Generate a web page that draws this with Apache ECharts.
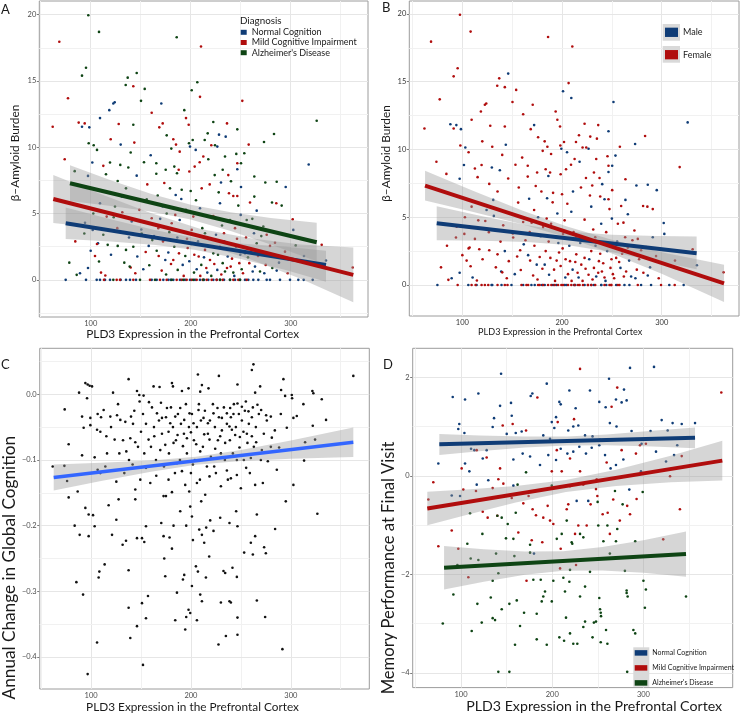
<!DOCTYPE html>
<html><head><meta charset="utf-8">
<script src="https://cdn.jsdelivr.net/npm/echarts@6/dist/echarts.min.js"></script>
<style>html,body{margin:0;padding:0;background:#fff}#c{width:740px;height:714px}</style>
</head><body><div id="c"></div>
<script>
// ---------- DATA ----------
// Panels A & B share points: [PLD3 expression, amyloid burden, diagnosis (N/M/A), sex (M/F)]
const abPoints = [
[97.6,19.95,'A','F'],[108.3,18.7,'A','F'],[68.6,17.96,'M','F'],[186,18.3,'A','F'],[210.3,17.6,'M','F'],
[95.3,16.0,'A','F'],[91.3,15.4,'A','F'],[146,15.6,'A','M'],[137,15.25,'A','F'],[135,14.7,'A','F'],
[142.6,14.6,'M','F'],[154,14.4,'A','F'],[206.6,14.9,'A','F'],[201,14.3,'A','M'],[77.3,13.7,'M','F'],
[209.3,13.8,'M','M'],[251.6,13.5,'M','M'],[150.3,13.5,'A','F'],[124,13.4,'N','F'],[122.6,13.3,'N','F'],
[170.6,13.3,'N','F'],[118.6,12.8,'N','F'],[193.6,12.8,'A','F'],[161,12.6,'M','F'],[109.3,12.2,'N','F'],
[62,11.55,'M','F'],[88,11.86,'M','M'],[94,11.8,'M','M'],[91.3,11.55,'N','F'],[98.6,11.5,'N','M'],
[128,11.75,'M','F'],[142.6,11.7,'A','F'],[168.6,11.5,'M','F'],[172,11.8,'M','M'],[195.3,12.2,'M','F'],
[198,11.7,'M','F'],[222.6,11.9,'A','F'],[236.3,11.8,'M','F'],[228.3,10.95,'N','F'],[235,10.8,'N','F'],
[246.6,11.35,'A','M'],[326,12.0,'A','M'],[217,11.05,'A','F'],[98,10.3,'A','F'],[103,10.15,'A','M'],
[106.3,9.8,'A','F'],[130,10.2,'N','F'],[143.6,10.35,'M','M'],[182.6,10.6,'M','F'],[180.6,9.9,'A','F'],
[185.3,10.2,'M','F'],[189,9.67,'M','F'],[198.3,10.3,'A','F'],[199.3,10.05,'N','M'],[202,10.55,'A','F'],
[214,10.55,'A','F'],[220.6,10.15,'M','F'],[224.3,10.15,'A','F'],[226.6,10.05,'N','M'],[234.3,9.3,'A','F'],
[245.6,9.5,'A','F'],[253.6,9.55,'A','M'],[273.3,10.4,'A','M'],[283.3,11.0,'A','F'],[318,8.7,'N','F'],
[74,9.1,'M','F'],[84,8.2,'A','F'],[101.6,8.85,'N','M'],[112.6,8.6,'M','F'],[119.3,8.85,'A','F'],
[129.6,8.67,'A','M'],[137.6,8.47,'A','M'],[153.3,8.87,'A','F'],[165.6,8.8,'A','F'],[165.6,8.0,'A','F'],
[115.3,7.96,'A','F'],[146,7.86,'N','F'],[97.3,7.84,'N','M'],[175,8.3,'A','F'],[183.6,8.54,'A','F'],
[186.3,8.04,'A','M'],[188,8.3,'M','F'],[198.6,8.17,'M','F'],[204,8.54,'M','F'],[209,8.87,'M','F'],
[212.6,9.3,'M','F'],[217.6,9.1,'A','M'],[224,7.9,'A','F'],[237.6,7.9,'M','F'],[246.6,8.34,'N','M'],
[246.6,8.8,'M','F'],[250.3,8.8,'A','M'],[230.3,7.34,'N','F'],[240.3,7.44,'A','M'],[250.3,7.0,'N','F'],
[263.6,7.8,'A','F'],[274.6,7.34,'A','M'],[286,7.4,'A','M'],[295,7.0,'N','M'],[127,7.46,'A','F'],
[135.3,6.9,'A','F'],[173.6,7.3,'M','F'],[179.3,6.9,'A','F'],[167,6.36,'A','M'],[191,6.8,'A','F'],
[200,6.7,'A','F'],[211,6.9,'M','M'],[228,6.6,'A','F'],[238.3,6.53,'M','F'],[242.6,6.33,'M','M'],
[246.6,6.33,'M','F'],[263.6,6.28,'A','M'],[259.3,5.83,'M','F'],[281.3,5.83,'A','F'],[285.6,5.78,'M','F'],
[291,5.6,'A','F'],
[78.6,1.3,'A','F'],[86,0.38,'A','F'],[89.3,0.5,'N','M'],[93.6,3.5,'A','F'],[100,2.2,'N','F'],
[102,3.77,'N','F'],[106.3,2.7,'M','F'],[107.3,2.76,'N','F'],[108.3,1.38,'A','F'],[110.3,0.55,'M','M'],
[114.6,0.33,'M','F'],[117,2.64,'A','F'],[127,2.56,'A','F'],[123,4.72,'A','F'],[135.3,2.26,'A','F'],
[139,1.0,'A','M'],[140,0.93,'M','F'],[142.6,2.5,'A','M'],[146.6,1.76,'N','F'],[151,3.5,'A','F'],
[152.6,0.8,'N','M'],[158,2.56,'N','F'],[163.3,3.3,'N','F'],[166,2.2,'A','M'],[167.6,3.9,'M','F'],
[171,0.7,'M','F'],[174.6,1.5,'N','M'],[177.6,2.06,'N','F'],[182.6,1.5,'M','M'],[183.6,2.5,'A','F'],
[187,0.75,'A','M'],[192,1.13,'N','F'],[194.6,1.8,'A','F'],[197,2.4,'M','F'],[201,3.77,'M','F'],
[203.3,0.55,'A','M'],[206,0.8,'N','F'],[208,1.76,'M','F'],[210.6,1.13,'A','M'],[214.3,2.26,'M','F'],
[216.6,0.55,'N','M'],[219.3,1.5,'M','F'],[222.6,2.0,'A','F'],[226.6,0.75,'N','F'],[229.3,2.5,'M','F'],
[232,1.26,'A','F'],[234.3,0.63,'A','M'],[237,1.76,'N','F'],[240,1.0,'M','F'],[242.6,0.55,'A','F'],
[245.3,2.5,'N','M'],[248.6,1.26,'M','F'],[251,0.8,'A','F'],[254.3,2.0,'N','F'],[258.6,1.26,'M','M'],
[262,0.63,'N','F'],[266,2.76,'A','F'],[269.3,0.63,'A','M'],[275,1.13,'M','F'],[279.3,2.56,'M','F'],
[286,0.7,'N','M'],[294.3,2.13,'M','F'],[302.6,3.77,'N','M'],[302,4.57,'M','M'],[313.3,1.8,'N','F'],
[331,2.64,'M','F'],[335.3,1.46,'N','M'],[362,0.93,'M','F'],
[94.3,4.3,'N','F'],[102.6,5.0,'A','F'],[109.3,5.78,'N','F'],[116,4.77,'M','F'],[124.3,5.53,'A','M'],
[131,6.28,'N','M'],[141,4.4,'N','F'],[148.6,5.28,'M','F'],[156,6.08,'A','F'],[161,4.65,'M','F'],
[172,5.53,'N','F'],[176,5.0,'A','M'],[181,4.27,'M','F'],[189,4.52,'N','F'],[195.3,5.28,'A','M'],
[202.6,4.77,'M','F'],[209.3,5.4,'N','M'],[214.3,3.52,'A','F'],[222.6,4.82,'M','F'],[229.3,5.78,'N','M'],
[233.3,3.52,'M','F'],[239.3,4.52,'A','M'],[244.3,3.9,'M','F'],[250,4.9,'N','M'],[256,4.52,'A','F'],
[263.3,3.52,'N','F'],[266,5.22,'N','M'],[272.6,4.02,'A','F'],[276,3.4,'M','F'],[291,3.52,'A','M'],
[150.6,3.8,'N','F'],[155,2.1,'M','F'],[158.6,1.1,'A','F'],[161.6,3.0,'A','M'],[168,1.8,'M','F'],
[169.5,4.6,'N','F'],[172.3,2.9,'M','F'],[175.4,0.4,'A','F'],[178.6,3.6,'A','M'],[180.3,1.2,'M','F'],
[184.6,4.9,'M','F'],[186.6,3.2,'N','F'],[188.3,2.0,'M','F'],[190.6,6.1,'N','F'],[193,0.3,'M','F'],
[196.3,3.1,'M','M'],[198.6,1.4,'N','F'],[200.6,2.7,'A','F'],[203.6,1.9,'M','F'],[205.3,6.0,'A','F'],
[207.3,2.9,'N','M'],[209.6,0.3,'M','F'],[211.6,3.9,'A','F'],[213.3,1.7,'N','F'],[215.6,0.9,'M','F'],
[218.3,3.1,'M','M'],[220.6,0.3,'A','F'],[223.6,1.2,'M','F'],[225.3,3.4,'N','F'],[227.3,1.9,'A','M'],
[230.6,0.4,'M','F'],[231.3,4.1,'A','F'],[233.6,2.9,'N','M'],[236.3,0.9,'M','F'],[238.3,2.3,'A','F'],
[241.3,1.6,'M','F'],[243.6,0.3,'N','M'],[246.3,3.1,'M','F'],[247.6,5.6,'A','F'],[249.6,1.9,'N','F'],
[252.3,0.5,'M','F'],[255.3,3.2,'M','M'],[257.3,1.7,'A','F'],[260.3,2.3,'M','F'],[261.6,4.6,'A','F'],
[264.3,1.0,'N','F'],[267.3,1.8,'M','M'],[270.6,3.3,'A','F'],[273.6,0.5,'N','M'],[277.3,1.9,'M','F'],
[281.6,0.9,'A','F'],[284.3,2.8,'M','F'],[288.3,1.3,'N','M'],[297,0.5,'M','F'],[305,2.6,'A','F'],
[120.3,1.9,'N','F'],[126.6,3.9,'M','F'],[133.6,1.3,'A','F'],[131.6,5.1,'M','M'],[138.3,3.2,'N','F'],
[144.6,0.5,'M','F'],[112.6,3.4,'A','F'],[104.3,1.8,'M','F'],[97.3,0.9,'N','M'],[84.6,2.9,'M','F'],
[156.6,7.2,'M','F'],[185,6.4,'N','M'],[219,7.2,'M','F'],[232,8.3,'A','F'],[205,9.8,'N','M'],
[258,10.2,'M','F'],[176,10.9,'A','F'],[160,9.4,'N','F'],[140,9.6,'A','F'],[120,10.6,'M','F'],
[75,0,'N','M'],[95.3,0,'N','F'],[106,0,'N','M'],[109.3,0,'N','F'],[114.3,0,'N','M'],[119.3,0,'N','F'],
[130,0,'N','M'],[135.3,0,'N','F'],[139.3,0,'N','M'],[145.3,0,'N','F'],[161,0,'N','M'],[166,0,'N','F'],
[172.6,0,'N','M'],[177.6,0,'N','F'],[180,0,'N','M'],[182.6,0,'N','M'],[189.3,0,'N','F'],[194.3,0,'N','M'],
[199.3,0,'N','F'],[204.3,0,'N','M'],[209.3,0,'N','F'],[213.3,0,'N','M'],[217.6,0,'N','F'],[222.6,0,'N','M'],
[226,0,'N','F'],[229.3,0,'N','M'],[233.3,0,'N','F'],[239.3,0,'N','M'],[244.3,0,'N','M'],[249.3,0,'N','F'],
[254.3,0,'N','M'],[257.6,0,'N','F'],[262.6,0,'N','M'],[267.6,0,'N','M'],[276,0,'N','F'],[279.3,0,'N','M'],
[289.3,0,'N','M'],[299.3,0,'N','F'],[307.6,0,'N','M'],[313,0,'N','F'],[322,0,'N','M'],
[113.3,0,'M','F'],[126,0,'M','F'],[129.3,0,'M','M'],[142.6,0,'M','F'],[159.3,0,'M','F'],[169.3,0,'M','M'],
[176,0,'M','F'],[186,0,'M','F'],[191,0,'M','M'],[196,0,'M','F'],[201,0,'M','F'],[206,0,'M','F'],
[212,0,'M','M'],[216,0,'M','F'],[221,0,'M','F'],[226,0,'M','F'],[232,0,'M','M'],[242.6,0,'M','F'],
[247.6,0,'M','F'],[256,0,'M','F'],
[122.6,0,'A','F'],[149.3,0,'A','M'],[164.3,0,'A','F'],[181,0,'A','F'],[192.6,0,'A','F'],[202.6,0,'A','M'],
[212.6,0,'A','F'],[229.3,0,'A','F'],[239.3,0,'A','M'],[249.3,0,'A','F']
];

// Panel A fits [x, y] and confidence bands [x, lower, upper]
const fitA_NC  = [[75,4.27],[335.3,1.13]];
const fitA_MCI = [[62.6,6.1],[362.6,0.38]];
const fitA_AD  = [[79.3,7.29],[326,2.84]];
const bandA_NC  = [[75,3.09,5.45],[120,2.89,4.57],[165,2.63,3.75],[205,2.25,3.15],[250,1.57,2.75],[295,0.74,2.50],[335.3,-0.15,2.2]];
const bandA_MCI = [[62.6,4.29,7.91],[110,3.90,6.48],[160,3.44,5.04],[210,2.74,3.84],[260,1.53,3.13],[310,0.09,2.67],[362.6,-1.69,2.45]];
const bandA_AD  = [[79.3,5.94,8.64],[120,5.58,7.52],[160,5.16,6.50],[200,4.56,5.66],[240,3.69,5.09],[280,2.67,4.67],[326,1.40,4.30]];

// Panel B fits and bands
const fitB_Male   = [[74.3,4.56],[335,2.34]];
const fitB_Female = [[62.6,7.33],[362.5,0.12]];
const bandB_Male   = [[74.3,3.31,5.81],[120,3.27,5.07],[165,3.18,4.40],[205,2.95,3.95],[250,2.42,3.70],[295,1.75,3.61],[335,1.16,3.57]];
const bandB_Female = [[62.6,6.23,8.43],[110,5.40,6.98],[160,4.48,5.50],[205,3.51,4.31],[250,2.32,3.34],[300,0.83,2.41],[362.5,-1.26,1.50]];

// Panel C points [PLD3 expression, annual change in global cognition]
const cPoints = [
[262.6,0.0456],[261,0.037],[362.6,0.028],[292.6,0.023],[207,0.03],[228,0.028],[137.6,0.023],[181,0.017],[182,0.012],
[162.6,0.012],[168.6,0.011],[197.6,0.009],[94.3,0.017],[96.6,0.015],[98.6,0.013],[101,0.012],[88,0.0025],[122,0.0025],
[211,0.014],[217.6,0.009],[191,0.005],[209.3,0.004],[246.6,0.015],[269.3,0.012],[264.3,0.0025],[290.3,0.0065],
[321.6,0.005],[322.6,0.0015],[301,-0.001],[294.3,-0.0025],[301.3,-0.006],[331,-0.0076],[146,0.005],[148.3,-0.001],
[152.6,-0.002],[96,-0.006],
[73.6,-0.023],[91,-0.034],[99.3,-0.036],[106.6,-0.03],[112.6,-0.024],[119.3,-0.034],[126,-0.032],[129.3,-0.039],
[134.3,-0.042],[140,-0.034],[143.3,-0.025],[148.6,-0.011],[161,-0.02],[166,-0.029],[171,-0.036],[176,-0.021],
[179.3,-0.044],[184.3,-0.034],[189.3,-0.021],[193.3,-0.039],[198.6,-0.029],[202.6,-0.044],[207.6,-0.024],
[212.6,-0.036],[217,-0.044],[222.6,-0.029],[226.6,-0.021],[231,-0.036],[236,-0.029],[239.3,-0.021],[242.6,-0.03],
[246.6,-0.014],[251,-0.019],[255,-0.011],[257.6,-0.026],[262,-0.02],[266.6,-0.016],[270.3,-0.024],[275.3,-0.032],
[280,-0.034],[306,-0.033],[302.6,-0.036],[312.6,-0.015],[335.3,-0.039],[322,-0.048],
[77.6,-0.076],[106,-0.054],[109.3,-0.057],[115.3,-0.064],[123.6,-0.069],[128.3,-0.09],[135.3,-0.087],[139.3,-0.067],
[144.3,-0.073],[150,-0.057],[153.3,-0.09],[157.6,-0.069],[163.3,-0.064],[169.3,-0.085],[174.3,-0.077],[177.6,-0.057],
[182.6,-0.074],[186.6,-0.062],[192,-0.079],[196,-0.067],[200,-0.058],[205.3,-0.076],[209.3,-0.087],[213.3,-0.061],
[218.6,-0.069],[224.3,-0.083],[229.3,-0.064],[234.3,-0.074],[238.6,-0.049],[241,-0.054],[244.3,-0.062],[248.6,-0.081],
[252.6,-0.057],[256.6,-0.074],[261,-0.064],[265.3,-0.073],[271,-0.085],[281,-0.066],[288.3,-0.081],[296,-0.051],
[314.3,-0.073],[324.3,-0.069],[92.6,-0.051],[99.3,-0.047],
[61.6,-0.11],[73.3,-0.109],[76,-0.132],[91,-0.093],[103.6,-0.096],[106.6,-0.115],[109.3,-0.12],[114.3,-0.11],
[125.3,-0.133],[133.3,-0.12],[141.6,-0.107],[144.3,-0.145],[149.3,-0.13],[155,-0.112],[159.3,-0.135],[165.3,-0.124],
[172.6,-0.155],[175,-0.155],[177.6,-0.13],[181,-0.149],[186,-0.105],[191,-0.117],[194.3,-0.138],[198.3,-0.148],
[202,-0.107],[206,-0.135],[210.3,-0.163],[214.3,-0.153],[218.6,-0.125],[223.3,-0.11],[230,-0.14],[236,-0.116],
[240,-0.128],[246,-0.123],[250,-0.143],[255.3,-0.112],[260,-0.097],[264.3,-0.138],[272,-0.135],[277,-0.102],
[286,-0.115],[295,-0.163],[302.6,-0.138],[313.3,-0.101],[326.6,-0.182],
[77.6,-0.157],[86.6,-0.148],[83.6,-0.2],[88.6,-0.214],[94.3,-0.173],[97.6,-0.183],[97.6,-0.216],[102,-0.184],
[103.6,-0.201],[117.6,-0.169],[121,-0.214],[125.3,-0.191],[127.6,-0.16],[131.6,-0.229],[135,-0.223],[144.3,-0.16],
[146,-0.219],[151,-0.219],[153.3,-0.225],[155,-0.201],[170.3,-0.196],[172.6,-0.216],[178.6,-0.218],[181,-0.235],
[182.6,-0.2],[189.3,-0.178],[195.3,-0.2],[199.3,-0.171],[201,-0.186],[202,-0.222],[208.3,-0.206],[211,-0.214],
[215.3,-0.203],[219.3,-0.192],[222.6,-0.208],[213.3,-0.226],[218.3,-0.247],[229.3,-0.188],[238.6,-0.196],
[245.3,-0.178],[246.6,-0.201],[253.3,-0.241],[260,-0.226],[262,-0.244],[264.3,-0.216],[266,-0.183],[273.3,-0.233],
[275,-0.242],[284.3,-0.205],
[85.3,-0.286],[92,-0.305],[113.6,-0.259],[108.3,-0.27],[107.6,-0.279],[137.6,-0.268],[137.6,-0.325],[139.3,-0.371],
[146,-0.353],[151,-0.318],[155,-0.341],[157,-0.307],[106,-0.378],[96.6,-0.426],[152,-0.412],[173.3,-0.25],
[174.3,-0.277],[186,-0.302],[184.3,-0.344],[192,-0.282],[193.3,-0.275],[194.3,-0.358],[195.3,-0.339],[197.6,-0.328],
[199.3,-0.333],[201,-0.292],[205,-0.262],[207,-0.27],[206,-0.344],[209.3,-0.305],[211,-0.315],[215,-0.279],
[227.6,-0.381],[230,-0.317],[232.6,-0.269],[234.3,-0.272],[235,-0.368],[238.6,-0.315],[240,-0.317],[241.6,-0.264],
[246,-0.278],[246.6,-0.34],[246.6,-0.366],[266,-0.314],[274.3,-0.339],[291.6,-0.388],
[152,-0.03],[155,-0.045],[158,-0.012],[160,-0.08],[163,-0.05],[165,-0.1],[168,-0.04],[170,-0.013],[171,-0.06],
[173,-0.11],[175,-0.035],[178,-0.09],[180,-0.02],[182,-0.05],[184,-0.12],[185,-0.07],[187,-0.03],[189,-0.1],
[190,-0.045],[193,-0.06],[195,-0.015],[196,-0.09],[198,-0.05],[200,-0.12],[201,-0.03],[203,-0.07],[204,-0.1],
[206,-0.05],[208,-0.015],[209,-0.13],[210,-0.04],[212,-0.08],[214,-0.025],[216,-0.11],[217,-0.06],[219,-0.04],
[220,-0.095],[222,-0.015],[224,-0.05],[225,-0.12],[227,-0.07],[228,-0.035],[230,-0.09],[231,-0.055],[233,-0.02],
[234,-0.1],[236,-0.045],[237,-0.13],[239,-0.07],[240,-0.035],[242,-0.09],[243,-0.015],[245,-0.05],[246,-0.1],
[248,-0.03],[249,-0.065],[251,-0.04],[253,-0.1],[254,-0.025],[256,-0.06],[258,-0.045],[259,-0.12],[261,-0.035],
[263,-0.08],[265,-0.05],[268,-0.03],[270,-0.1],[273,-0.06],[276,-0.04],[280,-0.08],[284,-0.055],[290,-0.03],
[120,-0.05],[127,-0.015],[132,-0.07],[138,-0.1],[142,-0.045],[147,-0.08],[116,-0.09],[110,-0.035]
];
const fitC  = [[62.6,-0.1268],[362.6,-0.073]];
const bandC = [[62.6,-0.1466,-0.1070],[110,-0.1322,-0.1044],[160,-0.1178,-0.1009],[205,-0.1073,-0.0953],[250,-0.1017,-0.0848],[300,-0.0981,-0.0703],[362.6,-0.0955,-0.0505]];

// Panel D points [PLD3 expression, memory performance]
const dNC = [
[90.9,1.6],[104.4,1.55],[119,1.67],[143.9,2.07],[142.8,1.42],[154.8,1.48],[155.6,1.22],[136.2,1.17],[134.7,0.99],
[98.1,1.05],[97,0.95],[103.7,0.87],[150.1,0.85],[160,0.87],[166.5,0.9],[178.2,1.67],[176.4,1.62],[194,1.87],
[199.5,1.09],[204.2,1.19],[207.8,1.5],[209.3,1.45],[218.8,1.73],[225.7,1.37],[241.4,1.73],[251.6,1.5],[258.6,1.39],
[262.3,1.97],[269.9,1.55],[276.1,1.49],[281.6,1.53],[285.3,2.19],[311.6,2.21],[278.7,1.75],[320,1.13],[332,1.07],
[342,1.05],[356.6,1.07],[190.2,0.82],[197.6,0.75],[202.3,0.97],[217.6,0.92],[223.1,1.0],[228.6,1.02],[236,0.82],
[244.2,0.8],[252.4,0.73],[263.2,1.07],[270.5,1.0],[287,0.91],[298,0.65],[307.8,0.91],[326.6,0.92],[337.1,0.62],
[333.6,0.42],[313.8,0.49],[324.8,0.29],[111,0.55],[114.6,0.52],[104.4,0.25],[75.1,0.25],[109.1,0.09],[123.8,0.35],
[128.1,0.52],[157.4,0.33],[167.6,0.45],[175.7,0.39],[186.6,0.22],[195.7,0.42],[204.2,0.32],[209.3,0.55],[216.6,0.45],
[223.1,0.49],[229.7,0.59],[237,0.45],[243.3,0.57],[251.6,0.62],[257.9,0.42],[264,0.15],[269.9,0.22],[278,0.33],
[284.5,-0.28],[297.3,0.09],[89.8,-0.4],[98.9,-0.41],[117.2,-0.18],[129.9,-0.09],[157.4,-0.2],[180,-1.58],
[226.8,-0.51],[239.5,-0.51]
];
const dMCI = [
[230.5,2.17],[271.3,1.79],[385.4,1.69],[183.7,1.59],[145.7,1.02],[206,1.09],[223.9,1.15],[265.1,1.4],[171.3,0.92],
[128.1,0.37],[117.2,0.52],[142.8,0.15],[140.9,-0.07],[100.7,0.15],[69.6,-0.13],[64.2,-0.48],[75.1,-1.43],[89.8,-1.11],
[97,-1.48],[108,-2.06],[102.5,-0.28],[116.4,-0.31],[134.7,-0.25],[146.4,-0.16],[155.6,-0.45],[123.8,-0.73],
[129.2,-0.85],[139.8,-0.81],[162.8,-1.15],[168.3,-0.56],[174.1,-0.41],[178.5,-0.68],[182.2,-0.8],[189.1,-1.35],
[177.5,-1.31],[190.2,-0.85],[195,-0.61],[199.5,0.09],[197.6,-0.91],[201.2,-0.98],[209.3,-1.48],[215.9,-0.68],
[217.6,-0.58],[225,-1.18],[228.6,-1.01],[219.5,-0.21],[234.1,-0.18],[237.8,-1.01],[242.1,-0.58],[248,-0.27],
[249.5,-0.41],[255.3,-0.78],[260.8,-0.75],[263.2,-1.18],[266.9,-0.48],[274.1,-0.91],[282.2,-0.61],[296.2,0.62],
[302.7,0.65],[292.5,-0.47],[285.3,-0.78],[321.7,-1.29],[340,-0.68],[329.2,-0.01],[342,0.4],[291.8,0.45],[276.1,0.52],
[259.7,0.27],[248.7,-0.07],[230.5,0.09],[219.5,0.35],[205,0.52],[210.4,0.09],[226.1,-1.81],[171.8,-2.13],
[208.6,-1.88],[156.6,1.05]
];
const dAD = [
[80,-3.0],[91.6,-2.41],[96,-1.81],[106.9,-1.38],[110.6,-1.68],[111.7,-3.15],[117.9,-2.6],[119,-1.71],[123.4,-1.18],
[122.7,-2.98],[132.6,-2.47],[134.7,-2.13],[134.7,-2.89],[137.3,-2.93],[138.4,-1.58],[140.9,-1.98],[140.9,-3.98],
[139.8,-0.81],[144.6,-0.85],[144.6,-2.71],[149.3,-1.27],[151.2,-0.98],[153,-2.6],[153,-3.98],[157.4,-1.28],
[158.5,-1.63],[160,-0.75],[161.1,-2.53],[159.2,-3.43],[164.7,-3.05],[169.1,-2.78],[171.3,0.07],[175.7,-1.4],
[175.7,-1.56],[179.3,-2.11],[183,-2.8],[183,-3.32],[187.4,-2.11],[188.5,-2.55],[190.2,-2.45],[192.1,-2.35],
[194,-3.43],[199.5,-2.55],[201.2,-2.13],[199.5,-0.2],[205,-1.28],[207.8,-3.28],[210.4,-1.18],[212.2,-2.07],
[214,-2.35],[213,-3.35],[215.1,-2.88],[215.9,-0.91],[218.8,-2.15],[219.5,-1.91],[221.3,-1.35],[222,-1.38],
[219.5,-3.2],[223.1,-3.41],[227.5,-3.41],[230.5,-2.45],[230.5,-1.18],[234.1,-3.07],[236,-2.96],[236,-2.25],
[241.4,-1.95],[244.2,-3.28],[245.7,-2.98],[248,-2.96],[249.8,-0.53],[250.5,-1.01],[251.6,-2.48],[252.4,-2.71],
[253.2,-2.78],[253.5,-2.85],[253.2,-3.38],[256.1,-1.33],[259,-3.13],[260.5,-3.41],[263.2,-1.58],[268.8,-0.31],
[269.9,-1.33],[271.3,-1.08],[277.2,-0.58],[279.7,-1.93],[281.6,-2.33],[281.6,-2.38],[282.7,-2.45],[282.2,-3.98],
[291,-1.33],[289,-3.13],[291,-3.2],[300,-2.13],[302.7,-2.31],[301.6,-2.68],[346.7,-2.45],[299.2,-0.33],[162,-0.18],
[109.9,-0.76],[234.1,-1.25],[260.5,-1.01]
];
const fitD_NC  = [[76.2,0.64],[356.6,0.774]];
const fitD_MCI = [[63,-0.666],[386.5,0.308]];
const fitD_AD  = [[81.4,-1.866],[346.7,-1.59]];
const bandD_NC  = [[76.2,0.42,0.85],[120,0.50,0.82],[170,0.574,0.796],[216,0.617,0.797],[260,0.618,0.838],[310,0.592,0.912],[356.6,0.56,0.98]];
const bandD_MCI = [[63,-1.006,-0.326],[110,-0.775,-0.275],[160,-0.540,-0.208],[215,-0.328,-0.088],[270,-0.209,0.123],[330,-0.131,0.407],[386.5,-0.096,0.712]];
const bandD_AD  = [[81.4,-2.31,-1.426],[125,-2.151,-1.491],[170,-2.011,-1.537],[212,-1.93,-1.53],[255,-1.924,-1.448],[300,-1.971,-1.307],[346.7,-2.05,-1.13]];

// Tick labels / grid values
const xTicks = [100,200,300];
const xMinor = [50,150,250,350];
const yTicksAB = [0,5,10,15,20];
const yMinorAB = [-2.5,2.5,7.5,12.5,17.5];
const yTicksC = [-0.4,-0.3,-0.2,-0.1,0.0];
const yMinorC = [-0.35,-0.25,-0.15,-0.05,0.05];
const yTicksD = [-4,-2,0,2];
const yMinorD = [-3,-1,1];

const diagNames = {N:'Normal Cognition', M:'Mild Cognitive Impairment', A:"Alzheimer's Disease"};
const sexNames = {M:'Male', F:'Female'};

// ---------- STYLE ----------
const FF = 'Lato';
const C_BLUE = '#0f3c76', C_RED = '#b00d0d', C_GREEN = '#0e4414';
const BAND_FILL = 'rgba(153,153,153,0.4)';

const chart = echarts.init(document.getElementById('c'), null, {renderer:'canvas'});

function gridLineSeries(gi, xs, xm, ys, ym) {
  const major = {color:'#e6e6e6', width:1, type:'solid'};
  const minor = {color:'#f1f1f1', width:1, type:'solid'};
  const d = [];
  xs.forEach(v => d.push({xAxis:v, lineStyle:major}));
  xm.forEach(v => d.push({xAxis:v, lineStyle:minor}));
  ys.forEach(v => d.push({yAxis:v, lineStyle:major}));
  ym.forEach(v => d.push({yAxis:v, lineStyle:minor}));
  return {type:'line', xAxisIndex:gi, yAxisIndex:gi, data:[], silent:true, z:1,
    markLine:{silent:true, symbol:['none','none'], label:{show:false}, z:1, animation:false, data:d}};
}
function scatter(gi, name, data, color) {
  return {type:'scatter', name, xAxisIndex:gi, yAxisIndex:gi, data, symbolSize:2.6, z:2,
    itemStyle:{color, opacity:1}, silent:true};
}
function bandRender(params, api) {
  if (params.dataIndexInside !== 0) return null;
  const n = params.dataInsideLength;
  const up = [], lo = [];
  for (let i = 0; i < n; i++) {
    const x = api.value(0, i);
    up.push(api.coord([x, api.value(2, i)]));
    lo.push(api.coord([x, api.value(1, i)]));
  }
  return {type:'polygon', shape:{points: up.concat(lo.reverse())}, style:{fill: BAND_FILL}};
}
function band(gi, data) {
  return {type:'custom', xAxisIndex:gi, yAxisIndex:gi, data, renderItem:bandRender,
    encode:{x:0, y:[1,2]}, z:3, silent:true, clip:true};
}
function fit(gi, data, color, w) {
  return {type:'line', xAxisIndex:gi, yAxisIndex:gi, data, showSymbol:false, symbol:'none', z:4, silent:true,
    lineStyle:{color, width:w||4, cap:'butt'}};
}
function xAxis(gi, min, max, name, nameSize, nameGap, padR, padL, lblColor) {
  return {type:'value', gridIndex:gi, min, max, name, nameLocation:'middle', nameGap,
    nameTextStyle:{fontFamily:FF, fontSize:nameSize, color:'#1a1a1a', padding:[0,padR,0,padL]},
    axisLine:{show:false}, splitLine:{show:false},
    axisTick:{show:true, length:2.5, lineStyle:{color:'#7a7a7a'}, customValues:xTicks},
    axisLabel:{customValues:xTicks, fontFamily:FF, fontSize:7.5, color:lblColor||'#4d4d4d', margin:2.5}};
}
function yAxis(gi, min, max, ticks, name, nameSize, nameGap, padL, padR, lblColor, fmt) {
  return {type:'value', gridIndex:gi, min, max, name, nameLocation:'middle', nameGap,
    nameTextStyle:{fontFamily:FF, fontSize:nameSize, color:'#1a1a1a', padding:[0,padR,0,padL]},
    axisLine:{show:false}, splitLine:{show:false},
    axisTick:{show:true, length:2.5, lineStyle:{color:'#7a7a7a'}, customValues:ticks},
    axisLabel:{customValues:ticks, fontFamily:FF, fontSize:7.5, color:lblColor||'#4d4d4d', margin:3,
      formatter: fmt || (v => String(v))}};
}

const byDiag = d => abPoints.filter(p => p[2] === d).map(p => [p[0], p[1]]);
const bySex = s => abPoints.filter(p => p[3] === s).map(p => [p[0], p[1]]);
const gridStyle = {show:true, backgroundColor:'#ffffff', borderColor:'#9c9c9c', borderWidth:1, containLabel:false};

const option = {
  animation:false,
  backgroundColor:'#ffffff',
  textStyle:{fontFamily:FF},
  title:[
    {text:'A', left:1, top:3, padding:0, textStyle:{fontFamily:FF, fontSize:13, fontWeight:'normal', color:'#1a1a1a'}},
    {text:'B', left:382, top:1, padding:0, textStyle:{fontFamily:FF, fontSize:13, fontWeight:'normal', color:'#1a1a1a'}},
    {text:'C', left:1, top:358, padding:0, textStyle:{fontFamily:FF, fontSize:13, fontWeight:'normal', color:'#1a1a1a'}},
    {text:'D', left:383, top:358, padding:0, textStyle:{fontFamily:FF, fontSize:13, fontWeight:'normal', color:'#1a1a1a'}},
    {text:'Diagnosis', left:240, top:16, padding:0, textStyle:{fontFamily:FF, fontSize:9.8, fontWeight:'normal', color:'#1a1a1a'}}
  ],
  grid:[
    Object.assign({left:39.3, top:1, width:328.7, height:316}, gridStyle),
    Object.assign({left:409.3, top:1, width:329.7, height:315}, gridStyle),
    Object.assign({left:39.3, top:348.3, width:330, height:341}, gridStyle),
    Object.assign({left:412.7, top:348.3, width:320, height:344.4}, gridStyle)
  ],
  xAxis:[
    xAxis(0, 48.6, 377.3, 'PLD3 Expression in the Prefrontal Cortex', 11.8, 8, 22, 0),
    xAxis(1, 46.8, 377.5, 'PLD3 Expression in the Prefrontal Cortex', 9.1, 9, 28, 0, '#333'),
    xAxis(2, 48.6, 378.6, 'PLD3 Expression in the Prefrontal Cortex', 11.8, 12, 24, 0),
    xAxis(3, 47.0, 397.9, 'PLD3 Expression in the Prefrontal Cortex', 14.2, 10, 0, 43)
  ],
  yAxis:[
    yAxis(0, -2.8, 21.03, yTicksAB, '\u03b2\u2013Amyloid Burden', 11.8, 18, 12, 0),
    yAxis(1, -2.29, 20.96, yTicksAB, '\u03b2\u2013Amyloid Burden', 11.8, 17, 10, 0, '#333'),
    yAxis(2, -0.4487, 0.07, yTicksC, 'Annual Change in Global Cognition', 17.2, 21, 0, 98, null, v => v.toFixed(1).replace('-', '\u2212')),
    yAxis(3, -4.3, 2.588, yTicksD, 'Memory Performance at Final Visit', 16.6, 15, 0, 100, null, v => String(v).replace('-', '\u2212'))
  ],
  legend:[
    {left:240.7, top:27.3, orient:'vertical', padding:0, itemGap:0.2, itemWidth:6, itemHeight:5, icon:'rect',
     selectedMode:false, data:[diagNames.N, diagNames.M, diagNames.A],
     textStyle:{fontFamily:FF, fontSize:9, color:'#1a1a1a', lineHeight:10}},
    {left:665, top:26.3, orient:'vertical', padding:0, itemGap:10.4, itemWidth:13, itemHeight:9.3, icon:'rect',
     selectedMode:false, data:[sexNames.M, sexNames.F],
     textStyle:{fontFamily:FF, fontSize:9, color:'#1a1a1a', lineHeight:12}},
    {left:634.7, top:648.4, orient:'vertical', padding:0, itemGap:6, itemWidth:12.6, itemHeight:5.5, icon:'rect',
     selectedMode:false, data:[diagNames.N, diagNames.M, diagNames.A],
     textStyle:{fontFamily:FF, fontSize:7, color:'#1a1a1a', lineHeight:9}}
  ],
  graphic:[
    {type:'rect', z:3, silent:true, shape:{x:662.7, y:24, width:17.3, height:16.7}, style:{fill:'#d9d9d9'}},
    {type:'rect', z:3, silent:true, shape:{x:662.7, y:46, width:17.3, height:16.7}, style:{fill:'#d9d9d9'}},
    {type:'rect', z:3, silent:true, shape:{x:633.3, y:647.3, width:16, height:39.4}, style:{fill:'#d9d9d9'}}
  ],
  series:[
    gridLineSeries(0, xTicks, xMinor, yTicksAB, yMinorAB),
    scatter(0, diagNames.N, byDiag('N'), C_BLUE),
    scatter(0, diagNames.M, byDiag('M'), C_RED),
    scatter(0, diagNames.A, byDiag('A'), C_GREEN),
    band(0, bandA_NC), band(0, bandA_MCI), band(0, bandA_AD),
    fit(0, fitA_NC, C_BLUE), fit(0, fitA_MCI, C_RED), fit(0, fitA_AD, C_GREEN),

    gridLineSeries(1, xTicks, xMinor, yTicksAB, yMinorAB),
    scatter(1, sexNames.M, bySex('M'), C_BLUE),
    scatter(1, sexNames.F, bySex('F'), C_RED),
    band(1, bandB_Male), band(1, bandB_Female),
    fit(1, fitB_Male, C_BLUE), fit(1, fitB_Female, C_RED),

    gridLineSeries(2, xTicks, xMinor, yTicksC, yMinorC),
    scatter(2, 'Global cognition', cPoints, '#111111'),
    band(2, bandC),
    fit(2, fitC, '#3366ff', 3.6),

    gridLineSeries(3, xTicks, xMinor, yTicksD, yMinorD),
    scatter(3, diagNames.N, dNC, C_BLUE),
    scatter(3, diagNames.M, dMCI, C_RED),
    scatter(3, diagNames.A, dAD, C_GREEN),
    band(3, bandD_NC), band(3, bandD_MCI), band(3, bandD_AD),
    fit(3, fitD_NC, C_BLUE), fit(3, fitD_MCI, C_RED), fit(3, fitD_AD, C_GREEN)
  ]
};
chart.setOption(option);
</script></body></html>
